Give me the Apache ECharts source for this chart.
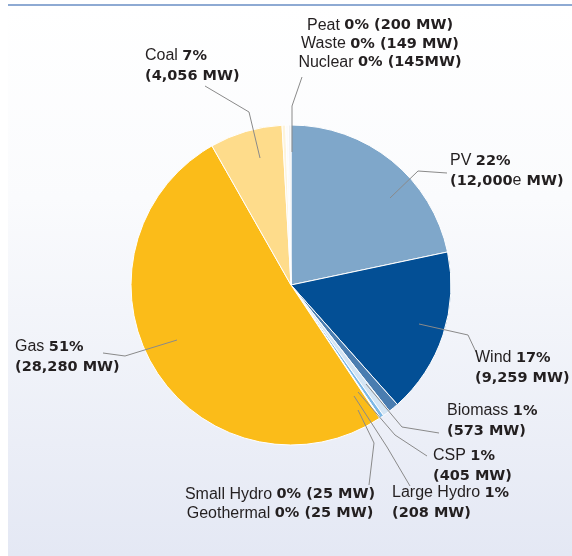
<!DOCTYPE html>
<html>
<head>
<meta charset="utf-8">
<script src="https://cdn.jsdelivr.net/npm/echarts@6/dist/echarts.min.js"></script>
<style>
  html, body { margin: 0; padding: 0; background: #fff; }
  #chart { width: 572px; height: 556px; }
</style>
</head>
<body>
<div id="chart"></div>
<script>
// installed capacity by source, clockwise from 12 o'clock
const names = ['PV', 'Wind', 'Biomass', 'CSP', 'Large Hydro', 'Small Hydro', 'Geothermal', 'Gas', 'Coal', 'Peat', 'Waste', 'Nuclear'];
const capacityMW = [12000, 9259, 573, 405, 208, 25, 25, 28280, 4056, 200, 149, 145];
const shareLabels = ['22%', '17%', '1%', '1%', '1%', '0%', '0%', '51%', '7%', '0%', '0%', '0%'];
const estimated = ['PV'];

const colors = ['#7fa7ca', '#034f95', '#4a7db0', '#d4e5f4', '#7cb8e6', '#e3eef8', '#cfe2f3',
  '#fbbc19', '#fedc8b', '#fdf4dc', '#fbfbfb', '#f0f0f0'];

const mw = i => {
  const num = capacityMW[i].toLocaleString('en-US');
  const sep = names[i] === 'Nuclear' ? '' : ' ';
  if (estimated.includes(names[i])) return '{b|(' + num + '}{n|e}{b|' + sep + 'MW)}';
  return '{b|(' + num + sep + 'MW)}';
};
const twoLine = i => '{n|' + names[i] + ' }{b|' + shareLabels[i] + '}\n' + mw(i);
const oneLine = i => '{n|' + names[i] + ' }{b|' + shareLabels[i] + ' }' + mw(i);

// where each label sits and how its leader line runs
const labelLayouts = {
  'Coal':        { x: 145, y: 46,  line: [[260, 158], [249, 112], [205, 86]] },
  'Waste':       { x: 380, y: 16,  align: 'center', line: [[292, 152], [292, 106], [302, 77]] },
  'PV':          { x: 450, y: 151, line: [[390, 198], [418, 171], [447, 173]] },
  'Wind':        { x: 475, y: 348, line: [[419, 324], [468, 335], [476, 352]] },
  'Biomass':     { x: 447, y: 401, line: [[366, 384], [402, 427], [439, 433]] },
  'CSP':         { x: 433, y: 446, line: [[358, 392], [395, 435], [427, 456]] },
  'Large Hydro': { x: 392, y: 483, line: [[354, 396], [387, 447], [410, 486]] },
  'Small Hydro': { x: 280, y: 485, align: 'center', line: [[358, 410], [374, 443], [369, 485]] },
  'Gas':         { x: 15,  y: 337, line: [[177, 340], [125, 356], [103, 353]] }
};

const labelText = {
  'Waste': [9, 10, 11].map(oneLine).join('\n'),
  'Small Hydro': [5, 6].map(oneLine).join('\n')
};

const textStyle = { fontSize: 16, color: '#231f20', fontFamily: 'Liberation Sans', lineHeight: 20 };
const boldStyle = { fontSize: 14.5, color: '#231f20', fontFamily: 'DejaVu Sans', fontWeight: 'bold', lineHeight: 20 };

const sliceData = names.map((name, i) => ({
  name: name,
  value: capacityMW[i],
  itemStyle: { color: colors[i] }
}));

// transparent copy on top, so the leader lines are drawn over the slices
const labelData = names.map((name, i) => {
  const hasLabel = !!labelLayouts[name];
  const lh = name === 'Waste' ? 18.5 : (name === 'Small Hydro' ? 19 : 20);
  return {
    name: name,
    value: capacityMW[i],
    label: {
      show: hasLabel,
      formatter: labelText[name] || twoLine(i),
      rich: {
        n: Object.assign({}, textStyle, { lineHeight: lh }),
        b: Object.assign({}, boldStyle, { lineHeight: lh })
      }
    },
    labelLine: { show: hasLabel }
  };
});

const chart = echarts.init(document.getElementById('chart'));
chart.setOption({
  backgroundColor: '#ffffff',
  animation: false,
  graphic: [
    {
      type: 'rect', z: -100, silent: true,
      shape: { x: 8, y: 5, width: 564, height: 551 },
      style: {
        fill: new echarts.graphic.LinearGradient(0, 0, 0, 1, [
          { offset: 0, color: '#ffffff' },
          { offset: 0.35, color: '#fafbfd' },
          { offset: 1, color: '#e4e8f4' }
        ])
      }
    },
    {
      type: 'line', z: -99, silent: true,
      shape: { x1: 8, y1: 5, x2: 572, y2: 5 },
      style: { stroke: '#8eaad3', lineWidth: 2 }
    }
  ],
  series: [
    {
      type: 'pie',
      center: [291, 285],
      radius: [0, 160],
      startAngle: 90,
      clockwise: true,
      emphasis: { disabled: true },
      itemStyle: { borderColor: '#ffffff', borderWidth: 1 },
      label: { show: false },
      labelLine: { show: false },
      data: sliceData
    },
    {
      type: 'pie',
      z: 5,
      silent: true,
      center: [291, 285],
      radius: [0, 160],
      startAngle: 90,
      clockwise: true,
      avoidLabelOverlap: false,
      emphasis: { disabled: true },
      itemStyle: { color: 'rgba(0,0,0,0)', borderWidth: 0 },
      label: { position: 'outside', color: '#231f20' },
      labelLine: { lineStyle: { color: '#8a8a8a', width: 1 } },
      labelLayout: function (p) {
        const L = labelLayouts[names[p.dataIndex]];
        if (!L) return {};
        return {
          x: L.x, y: L.y,
          align: L.align || 'left',
          verticalAlign: 'top',
          labelLinePoints: L.line
        };
      },
      data: labelData
    }
  ]
});
</script>
</body>
</html>
